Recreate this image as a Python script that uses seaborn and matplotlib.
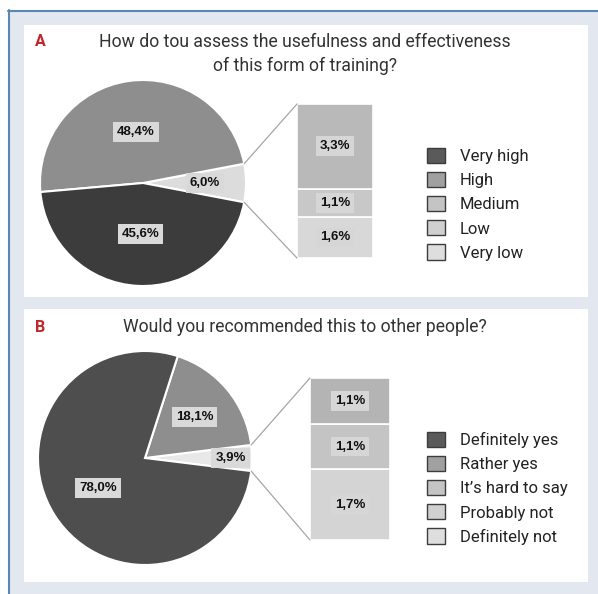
import numpy as np
import matplotlib
matplotlib.use("Agg")
import matplotlib.pyplot as plt
from matplotlib.patches import Rectangle, Patch, ConnectionPatch
import seaborn as sns

sns.set_theme(style="white")
plt.rcParams['font.family'] = ['Roboto', 'DejaVu Sans']

# ---------------- data ----------------
titleA = ["How do tou assess the usefulness and effectiveness", "of this form of training?"]
pieA_labels = ["Other", "High", "Very high"]
pieA_values = [6.0, 48.4, 45.6]
barA_labels = ["Very low", "Low", "Medium"]          # bottom -> top
barA_values = [1.6, 1.1, 3.3]
legendA = ["Very high", "High", "Medium", "Low", "Very low"]

titleB = ["Would you recommended this to other people?"]
pieB_labels = ["Other", "Rather yes", "Definitely yes"]
pieB_values = [3.9, 18.1, 78.0]
barB_labels = ["Definitely not", "Probably not", "It\u2019s hard to say"]  # bottom -> top
barB_values = [1.7, 1.1, 1.1]
legendB = ["Definitely yes", "Rather yes", "It\u2019s hard to say", "Probably not", "Definitely not"]

# ---------------- styles ----------------
pieA_colors = ["#dcdcdc", "#8e8e8e", "#3c3c3c"]
barA_colors = ["#d8d8d8", "#c8c8c8", "#b9b9b9"]
pieB_colors = ["#e8e8e8", "#8e8e8e", "#4e4e4e"]
barB_colors = ["#d4d4d4", "#c4c4c4", "#b4b4b4"]
legend_colors = ["#5a5a5a", "#a0a0a0", "#c4c4c4", "#d0d0d0", "#dedede"]

W, H = 598, 594
fig = plt.figure(figsize=(W / 100, H / 100), dpi=100)
fig.patch.set_facecolor("white")


def ax_px(l, t, w, h, **kw):
    return fig.add_axes([l / W, 1 - (t + h) / H, w / W, h / H], **kw)


# background / frame
bg = ax_px(0, 0, W, H)
bg.set_xlim(0, W)
bg.set_ylim(H, 0)
bg.axis("off")
bg.set_zorder(-10)
bg.add_patch(Rectangle((8, 10), W - 8, H - 10, facecolor="#e3e7ef", edgecolor="none"))
bg.plot([8.5, 8.5], [10, H], color="#5a88b2", lw=1.5)
bg.plot([8, W], [10.5, 10.5], color="#5a88b2", lw=1.5)
bg.add_patch(Rectangle((24, 25), 564, 272, facecolor="white", edgecolor="none"))
bg.add_patch(Rectangle((24, 309), 564, 273, facecolor="white", edgecolor="none"))


def fmt(v):
    return f"{v:.1f}".replace(".", ",") + "%"


def box_text(ax, x, y, s, fc):
    ax.text(x, y, s, ha="center", va="center", fontsize=9.5, fontweight="bold",
            family=["Liberation Sans", "DejaVu Sans"], color="#111111",
            bbox=dict(boxstyle="square,pad=0.3", facecolor=fc, edgecolor="none"))


def panel(letter, title, title_y, cx, cy, r, pie_vals, pie_cols, label_r,
          bar_box, bar_vals, bar_cols, leg_labels, leg_top):
    # letter + title
    fig.text(35 / W, 1 - title_y / H, letter, color="#c0272d", fontsize=11.5,
             fontweight="bold", ha="left", va="center")
    for i, line in enumerate(title):
        fig.text(305 / W, 1 - (title_y + 24 * i) / H, line, color="#333333",
                 fontsize=12.7, ha="center", va="center")

    # pie
    m = 1.08
    axp = ax_px(cx - r * m, cy - r * m, 2 * r * m, 2 * r * m)
    start = -pie_vals[0] / sum(pie_vals) * 360 / 2
    wedges, _ = axp.pie(pie_vals, colors=pie_cols, startangle=start, counterclock=True,
                        wedgeprops=dict(edgecolor="white", linewidth=1.5))
    axp.set_xlim(-m, m)
    axp.set_ylim(-m, m)
    axp.set_aspect("equal")
    axp.axis("off")
    for w, v, lr in zip(wedges, pie_vals, label_r):
        ang = np.deg2rad((w.theta1 + w.theta2) / 2)
        box_text(axp, lr * np.cos(ang), lr * np.sin(ang), fmt(v), "#d9d9d9")

    # bar of pie
    bl, bt, bw, bh = bar_box
    axb = ax_px(bl, bt, bw, bh)
    total = sum(bar_vals)
    bottom = 0
    for v, c in zip(bar_vals, bar_cols):
        axb.bar(0, v, bottom=bottom, width=1, align="edge", color=c,
                edgecolor="white", linewidth=1.2)
        box_text(axb, 0.5, bottom + v / 2, fmt(v), "#d6d6d6")
        bottom += v
    axb.set_xlim(0, 1)
    axb.set_ylim(0, total)
    axb.axis("off")

    # connectors
    w0 = wedges[0]
    for th, yb in [(w0.theta2, total), (w0.theta1, 0)]:
        t = np.deg2rad(th)
        con = ConnectionPatch(xyA=(np.cos(t), np.sin(t)), coordsA=axp.transData,
                              xyB=(0, yb), coordsB=axb.transData,
                              color="#a6a6a6", lw=0.9)
        fig.add_artist(con)

    # legend
    handles = [Patch(facecolor=c, edgecolor="#3c3c3c", linewidth=1.0) for c in legend_colors]
    fig.legend(handles, leg_labels, loc="upper left",
               bbox_to_anchor=(427 / W, 1 - leg_top / H), frameon=False,
               fontsize=12, handlelength=1.05, handleheight=1.02,
               handletextpad=0.92, labelspacing=0.47, borderpad=0, borderaxespad=0,
               labelcolor="#222222")


panel("A", titleA, 42, 143, 183, 103, pieA_values, pieA_colors, [0.6, 0.5, 0.5],
      (297, 104, 76, 154), barA_values, barA_colors, legendA, 148)
panel("B", titleB, 327, 145, 458, 107, pieB_values, pieB_colors, [0.8, 0.6, 0.52],
      (310, 378, 80, 162), barB_values, barB_colors, legendB, 432)

fig.savefig("out.png", dpi=100)
